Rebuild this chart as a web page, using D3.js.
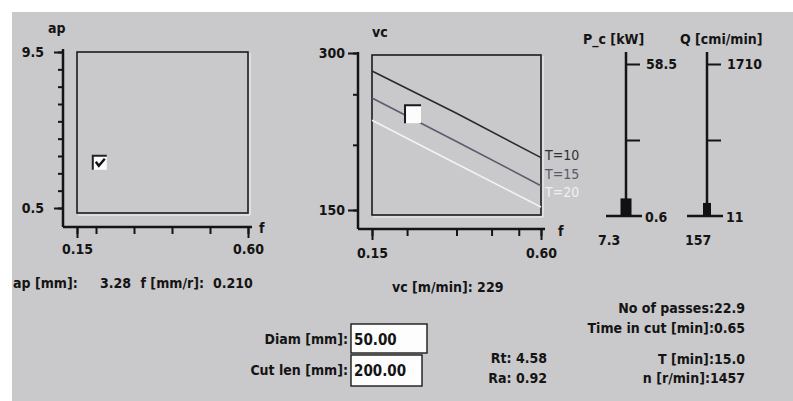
<!DOCTYPE html>
<html>
<head>
<meta charset="utf-8">
<script src="https://cdn.jsdelivr.net/npm/d3@7"></script>
<style>
   body { margin: 0; background: #fff; }
   text { font-family: 'DejaVu Sans Condensed', 'Liberation Sans Narrow', sans-serif; font-weight: bold; fill: #141414; }
</style>
</head>
<body>
<div class="chart"></div>
<script>
// ======================================
// The values
// ======================================
var fTicks = [0.15, 0.2, 0.3, 0.4, 0.5, 0.6];
var fLabels = [0.15, 0.6];

var apTicks = [0.5, 1.5, 2.5, 3.5, 4.5, 5.5, 6.5, 7.5, 8.5, 9.5];
var apLabels = [0.5, 9.5];

var vcTicks = [150, 200, 250, 300];
var vcLabels = [150, 300];

// tool life curves, vc at f
var curveF = [0.15, 0.3, 0.6];
var curveT10 = [277, 230, 189];
var curveT15 = [246, 203, 167];
var curveT20 = [223, 184, 152];
var curveNames = ['T=10', 'T=15', 'T=20'];

// current cutting point
var pointF = 0.21;
var pointAp = 3.28;
var pointVc = 229;

// power and metal removal gauges
var pcRange = [0.6, 58.5];
var pcTicks = [0.6, 29.55, 58.5];
var pcValue = 7.3;
var qRange = [11, 1710];
var qTicks = [11, 860.5, 1710];
var qValue = 157;

// fields and results
var diam = '50.00';
var cutLen = '200.00';
var rt = 4.58;
var ra = 0.92;
var passes = 22.9;
var timeInCut = 0.65;
var toolLife = 15.0;
var rpm = 1457;

// ======================================
// Layout
// ======================================
var W = 793, H = 401;
var apPlot = { axisX: 63, axisY: 227, left: 77, right: 248, top: 52, bottom: 213, yTop: 52, yBottom: 208 };
var vcPlot = { axisX: 358, axisY: 229, left: 372, right: 541, top: 55, bottom: 215, yTop: 53, yBottom: 210 };
var gauge = { top: 52, hi: 64, lo: 216 };

var svg = d3.select('.chart')
   .append('svg')
   .attr('width', W)
   .attr('height', H)
   ;

svg.append('rect')
   .attr('x', 12).attr('y', 12)
   .attr('width', W - 12).attr('height', H - 12)
   .attr('fill', '#c9c8ca')
   ;

function label(x, y, str, anchor, size){
   return svg.append('text')
      .attr('x', x).attr('y', y)
      .attr('text-anchor', anchor || 'start')
      .attr('font-size', (size || 14) + 'px')
      .text(str);
}

function styleAxis(g){
   g.select('.domain').remove();
   g.selectAll('line').attr('stroke', '#141414').attr('stroke-width', 2);
   g.selectAll('text')
      .attr('font-family', null)
      .attr('font-size', '14px')
      .attr('fill', '#141414');
   g.attr('font-family', null).attr('font-size', null);
}

function frame(p){
   // sunken plot frame plus the L shaped axes
   svg.append('rect')
      .attr('x', p.left).attr('y', p.top)
      .attr('width', p.right - p.left).attr('height', p.bottom - p.top)
      .attr('fill', 'none')
      .attr('stroke', '#1c1c1c')
      .attr('stroke-width', 1.6);
   svg.append('polyline')
      .attr('points', (p.left + 1) + ',' + (p.bottom + 2) + ' ' + (p.right + 2) + ',' + (p.bottom + 2) + ' ' + (p.right + 2) + ',' + (p.top + 1))
      .attr('fill', 'none')
      .attr('stroke', '#f4f4f4')
      .attr('stroke-width', 1);
   svg.append('line')
      .attr('x1', p.axisX).attr('x2', p.axisX)
      .attr('y1', p.top - 3).attr('y2', p.axisY)
      .attr('stroke', '#141414').attr('stroke-width', 2.5);
   svg.append('line')
      .attr('x1', p.axisX).attr('x2', p.right + 4)
      .attr('y1', p.axisY).attr('y2', p.axisY)
      .attr('stroke', '#141414').attr('stroke-width', 2.5);
}

function xAxes(p, scale, dy){
   var minor = d3.axisBottom(scale).tickValues(fTicks).tickSize(7).tickFormat('');
   var major = d3.axisBottom(scale).tickValues(fLabels).tickSize(11).tickPadding(dy)
      .tickFormat(d3.format('.2f'));
   styleAxis(svg.append('g').attr('transform', 'translate(0,' + p.axisY + ')').call(minor));
   styleAxis(svg.append('g').attr('transform', 'translate(0,' + p.axisY + ')').call(major));
}

// ======================================
// ap over f
// ======================================
var xAp = d3.scaleLinear().domain([0.15, 0.6]).range([apPlot.left, apPlot.right]);
var yAp = d3.scaleLinear().domain([0.5, 9.5]).range([apPlot.yBottom, apPlot.yTop]);

frame(apPlot);
xAxes(apPlot, xAp, 6);

styleAxis(svg.append('g')
   .attr('transform', 'translate(' + apPlot.axisX + ',0)')
   .call(d3.axisLeft(yAp).tickValues(apTicks).tickSize(5).tickFormat('')));
styleAxis(svg.append('g')
   .attr('transform', 'translate(' + apPlot.axisX + ',0)')
   .call(d3.axisLeft(yAp).tickValues(apLabels).tickSize(9).tickPadding(10).tickFormat(d3.format('.1f'))));

label(48, 33, 'ap');
label(259, 233, 'f');

// check box marker
var apMark = svg.append('g')
   .attr('transform', 'translate(' + xAp(pointF) + ',' + (yAp(pointAp) + 3) + ')');
apMark.append('rect')
   .attr('x', -7).attr('y', -7).attr('width', 14).attr('height', 14)
   .attr('fill', '#fbfbfb');
apMark.append('path')
   .attr('d', 'M-7,7 L-7,-7 L7,-7')
   .attr('fill', 'none').attr('stroke', '#222').attr('stroke-width', 2);
apMark.append('path')
   .attr('d', 'M-4,-1 L-1,3 L5,-4')
   .attr('fill', 'none').attr('stroke', '#111').attr('stroke-width', 2.4);

label(13, 288, 'ap [mm]:');
label(100, 288, pointAp.toFixed(2));
label(204, 288, 'f [mm/r]:', 'end');
label(213, 288, pointF.toFixed(3));

// ======================================
// vc over f, log-log
// ======================================
var xVc = d3.scaleLog().domain([0.15, 0.6]).range([vcPlot.left, vcPlot.right]);
var yVc = d3.scaleLog().domain([150, 300]).range([vcPlot.yBottom, vcPlot.yTop]);

frame(vcPlot);
xAxes(vcPlot, xVc, 8);

styleAxis(svg.append('g')
   .attr('transform', 'translate(' + vcPlot.axisX + ',0)')
   .call(d3.axisLeft(yVc).tickValues(vcTicks).tickSize(5).tickFormat('')));
styleAxis(svg.append('g')
   .attr('transform', 'translate(' + vcPlot.axisX + ',0)')
   .call(d3.axisLeft(yVc).tickValues(vcLabels).tickSize(10).tickPadding(3).tickFormat(d3.format('d'))));

label(372, 37, 'vc');
label(558, 236, 'f');

var curves = [curveT10, curveT15, curveT20];
var curveColors = ['#2a2a2c', '#5d5b70', '#f3f3f3'];
var line = d3.line()
   .x(function(d, i){ return xVc(curveF[i]); })
   .y(function(d){ return yVc(d); })
   ;

svg.selectAll('path.curve')
   .data(curves)
   .enter()
   .append('path')
      .attr('class', 'curve')
      .attr('d', line)
      .attr('fill', 'none')
      .attr('stroke', function(d, i){ return curveColors[i]; })
      .attr('stroke-width', 1.6)
      ;

svg.selectAll('text.curve')
   .data(curveNames)
   .enter()
   .append('text')
      .attr('class', 'curve')
      .attr('x', vcPlot.right + 4)
      .attr('y', function(d, i){ return 160 + i * 18.5; })
      .attr('font-size', '14px')
      .style('font-weight', 'normal')
      .style('fill', function(d, i){ return ['#303030', '#5a5a68', '#f0f0f0'][i]; })
      .text(function(d){ return d; })
      ;

var vcMark = svg.append('g')
   .attr('transform', 'translate(' + xVc(pointF) + ',' + yVc(pointVc) + ')');
vcMark.append('rect')
   .attr('x', -8).attr('y', -9).attr('width', 16).attr('height', 18)
   .attr('fill', '#fcfcfc');
vcMark.append('path')
   .attr('d', 'M-8,9 L-8,-9 L8,-9')
   .attr('fill', 'none').attr('stroke', '#1a1a1a').attr('stroke-width', 2);

label(392, 292, 'vc [m/min]: ' + pointVc);

// ======================================
// Gauges for P_c and Q
// ======================================
var gauges = [
   { name: 'P_c [kW]', nameX: 583, x: 626, range: pcRange, ticks: pcTicks, value: pcValue, valueX: 598, bar: 11, fmt: d3.format('.1f') },
   { name: 'Q [cmi/min]', nameX: 680, x: 707, range: qRange, ticks: qTicks, value: qValue, valueX: 685, bar: 8, fmt: d3.format('d') }
];

gauges.forEach(function(gd){
   var y = d3.scaleLinear().domain(gd.range).range([gauge.lo, gauge.hi]);
   label(gd.nameX, 44, gd.name);
   svg.append('line')
      .attr('x1', gd.x).attr('x2', gd.x)
      .attr('y1', gauge.top).attr('y2', gauge.lo)
      .attr('stroke', '#141414').attr('stroke-width', 2.5);
   var ax = d3.axisRight(y).tickValues(gd.ticks.slice(1)).tickSize(14).tickPadding(6)
      .tickFormat(function(d, i){ return i === gd.ticks.length - 2 ? gd.fmt(d) : ''; });
   styleAxis(svg.append('g').attr('transform', 'translate(' + gd.x + ',0)').call(ax));
   // base line
   svg.append('line')
      .attr('x1', gd.x - 20).attr('x2', gd.x + 16)
      .attr('y1', y(gd.range[0])).attr('y2', y(gd.range[0]))
      .attr('stroke', '#141414').attr('stroke-width', 2.5);
   label(gd.x + 19, y(gd.range[0]) + 6, gd.fmt(gd.range[0]));
   svg.append('rect')
      .attr('x', gd.x - gd.bar / 2)
      .attr('y', y(gd.value))
      .attr('width', gd.bar)
      .attr('height', y(gd.range[0]) - y(gd.value))
      .attr('fill', '#111');
   label(gd.valueX, 245, gd.fmt(gd.value));
});

// ======================================
// Entry fields and results
// ======================================
label(348, 344, 'Diam [mm]:', 'end');
label(348, 375, 'Cut len [mm]:', 'end');
[[351, 324, 76, 29, diam], [351, 355, 71, 31, cutLen]].forEach(function(b){
   svg.append('rect')
      .attr('x', b[0]).attr('y', b[1]).attr('width', b[2]).attr('height', b[3])
      .attr('fill', '#fdfdfd').attr('stroke', '#1a1a1a').attr('stroke-width', 1.4);
   label(b[0] + 3, b[1] + 21, b[4], 'start', 15);
});

label(547, 363, 'Rt: ' + rt.toFixed(2), 'end');
label(547, 383, 'Ra: ' + ra.toFixed(2), 'end');

label(745, 313, 'No of passes:' + passes.toFixed(1), 'end');
label(745, 333, 'Time in cut [min]:' + timeInCut.toFixed(2), 'end');
label(745, 364, 'T [min]:' + toolLife.toFixed(1), 'end');
label(745, 383, 'n [r/min]:' + rpm, 'end');
</script>
</body>
</html>
